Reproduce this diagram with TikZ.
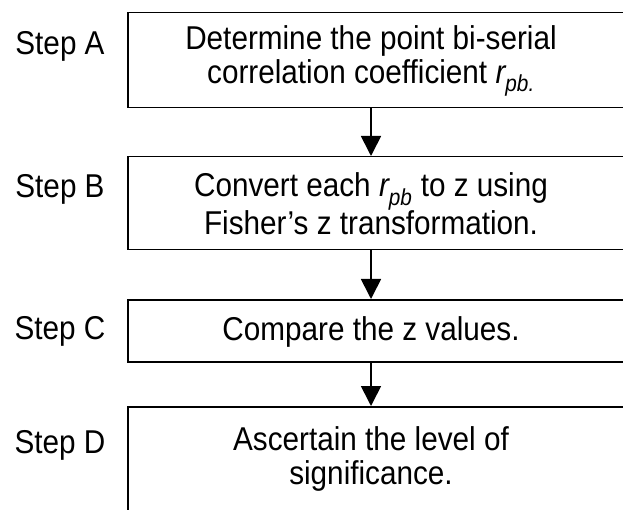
\documentclass[tikz,border=0pt]{standalone}
\usepackage{fontspec}
\setmainfont[FakeStretch=0.9]{Liberation Sans}
\usetikzlibrary{arrows.meta}
\begin{document}
\begin{tikzpicture}[x=1pt,y=-1pt,
  stepbox/.style={draw,line width=1.5pt,anchor=north west,minimum width=520pt},
  steptext/.style={align=center,font=\fontsize{33}{34}\selectfont},
  steplabel/.style={anchor=base,font=\fontsize{33}{34}\selectfont},
  flow/.style={line width=1.7pt,-{Triangle[length=20pt,width=20pt]}}]
\useasboundingbox (0,0) rectangle (623,510);
% boxes, open to the right
\node[stepbox,minimum height=95pt] (boxA) at (127,12) {};
\node[stepbox,minimum height=93pt] (boxB) at (127,156) {};
\node[stepbox,minimum height=62pt] (boxC) at (127,299) {};
\node[stepbox,minimum height=120pt] (boxD) at (127,406) {};
% texts
\node[steptext] (txtA) at (371,61) {Determine the point bi-serial\\correlation coefficient \textit{r\textsubscript{pb.}}};
\node[steptext] (txtB) at (371,204) {Convert each \textit{r\textsubscript{pb}} to z using\\Fisher’s z transformation.};
\node[steptext] (txtC) at (371,332) {Compare the z values.};
\node[steptext] (txtD) at (371,459) {Ascertain the level of\\significance.};
% step names
\node[steplabel] (labA) at (60,55) {Step A};
\node[steplabel] (labB) at (60,198) {Step B};
\node[steplabel] (labC) at (60,339) {Step C};
\node[steplabel] (labD) at (60,453) {Step D};
% arrows
\draw[flow] (txtA |- boxA.south) -- (txtA |- boxB.north);
\draw[flow] (txtB |- boxB.south) -- (txtB |- boxC.north);
\draw[flow] (txtC |- boxC.south) -- (txtC |- boxD.north);
\end{tikzpicture}
\end{document}
